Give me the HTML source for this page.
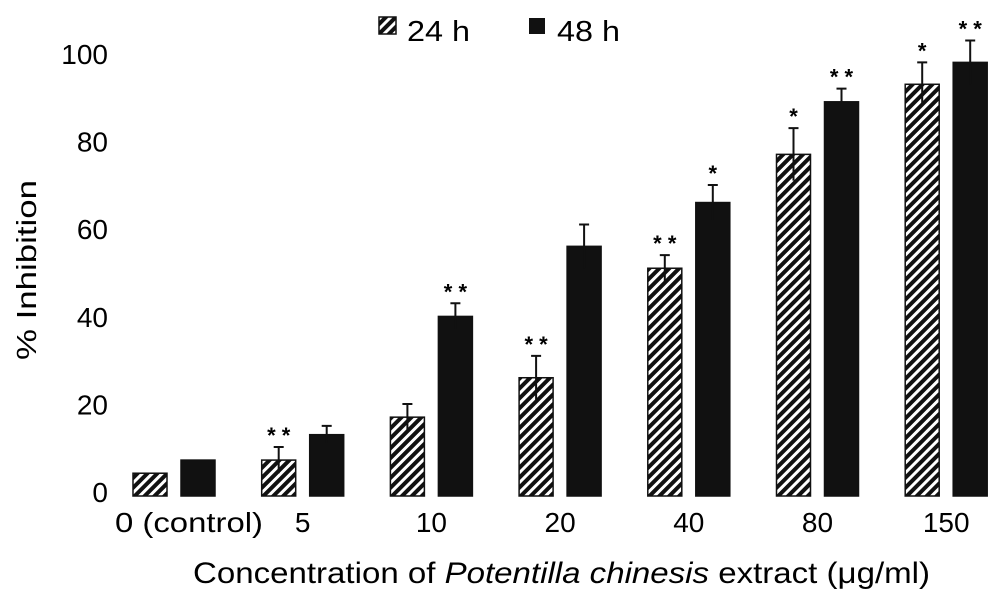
<!DOCTYPE html>
<html><head><meta charset="utf-8"><style>
body{margin:0;background:#fff;}
svg text{font-family:"Liberation Sans",Arial,sans-serif;fill:#000;}
</style></head><body>
<svg id="chart" width="1002" height="602" viewBox="0 0 1002 602" xmlns="http://www.w3.org/2000/svg">
<defs>
<pattern id="hatch" patternUnits="userSpaceOnUse" width="7" height="7" patternTransform="rotate(45)">
<rect width="7" height="7" fill="#111"/>
<rect x="0" y="0" width="3" height="7" fill="#fff"/>
</pattern>
</defs>
<g id="legend">
<rect x="379" y="17" width="17" height="17" fill="url(#hatch)" stroke="#111" stroke-width="1.5"/>
<text x="407" y="41" font-size="29" textLength="63" lengthAdjust="spacingAndGlyphs">24 h</text>
<rect x="529" y="18" width="16" height="16" fill="#111"/>
<text x="557" y="41" font-size="29" textLength="63" lengthAdjust="spacingAndGlyphs">48 h</text>
</g>
<g id="yaxis"></g>
<g id="bars"></g>
<g id="xaxis"></g>
<text transform="translate(36,270) rotate(-90)" text-anchor="middle" font-size="28" textLength="180" lengthAdjust="spacingAndGlyphs">% Inhibition</text>
<text x="193" y="583" font-size="30" textLength="737" lengthAdjust="spacingAndGlyphs">Concentration of <tspan font-style="italic">Potentilla chinesis</tspan> extract (μg/ml)</text>
</svg>
<script>
const categories=["0 (control)","5","10","20","40","80","150"];
const values24=[5.2,8.2,18,27,52,78,94];
const values48=[8.2,14,41,57,67,90,99];
const err24=[0,3,3,5,3,6,5];
const err48=[0,2,3,5,4,3,5];
const sig24=["","**","","**","**","*","*"];
const sig48=["","","**","","*","**","**"];
const yTicks=[0,20,40,60,80,100];
const NS="http://www.w3.org/2000/svg";
const y0=496, pxPer=4.38;
function y(v){return y0-v*pxPer;}
function gx(i){return 133+i*128.7;}
const bw=34;
function mk(t,a,p){const e=document.createElementNS(NS,t);for(const k in a)e.setAttribute(k,a[k]);p.appendChild(e);return e;}
const yax=document.getElementById('yaxis');
yTicks.forEach(t=>{const e=mk('text',{x:108,y:y(t)+6,'text-anchor':'end','font-size':'28'},yax);e.textContent=t;

});
const bars=document.getElementById('bars');
function drawBar(x,v,er,s,fill,name){
 const r=mk('rect',{x:x,y:y(v),width:bw,height:y0-y(v),fill:fill,stroke:'#111','stroke-width':1.5},bars);
 
 
 const cx=x+bw/2;
 if(er>0){
  const eb=mk('path',{d:`M${cx},${y(v-er)}V${y(v+er)}M${cx-5},${y(v+er)}H${cx+5}`,stroke:'#111','stroke-width':2,fill:'none'},bars);
  
  
 }
 if(s){
  const t=mk('text',{x:cx,y:y(v+er)-4,'text-anchor':'middle','font-size':'22','font-weight':'bold'},bars);
  t.textContent=s.split('').join(' ');
  
  
 }
}
const xax=document.getElementById('xaxis');
categories.forEach((c,i)=>{
 drawBar(gx(i),values24[i],err24[i],sig24[i],'url(#hatch)','bar-24h-'+i);
 drawBar(gx(i)+48,values48[i],err48[i],sig48[i],'#111','bar-48h-'+i);
 const a={x:gx(i)+41+(i===0?15:0),y:532,'text-anchor':'middle','font-size':'28'};
 if(i===0){a.textLength=148;a.lengthAdjust='spacingAndGlyphs';}
 const t=mk('text',a,xax);
 t.textContent=c;
 
 
});
</script>
</body></html>
